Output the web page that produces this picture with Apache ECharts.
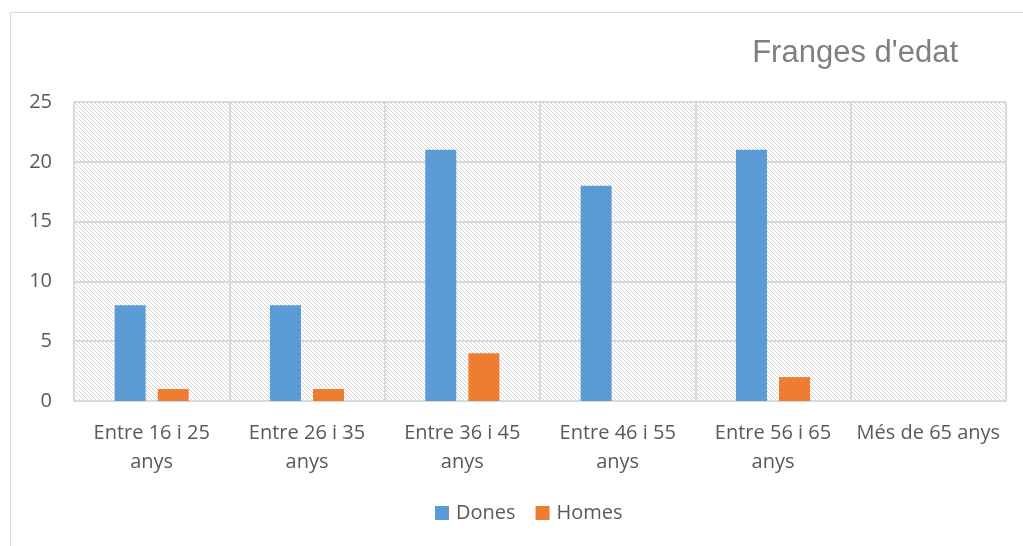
<!DOCTYPE html>
<html>
<head>
<meta charset="utf-8">
<script src="https://cdn.jsdelivr.net/npm/echarts@6/dist/echarts.min.js"></script>
<style>
  html, body { margin: 0; padding: 0; background: #fff; }
  #chart { width: 1023px; height: 546px; }
</style>
</head>
<body>
<div id="chart"></div>
<script>
const categories = ["Entre 16 i 25\nanys", "Entre 26 i 35\nanys", "Entre 36 i 45\nanys", "Entre 46 i 55\nanys", "Entre 56 i 65\nanys", "Més de 65 anys"];
const dones = [8, 8, 21, 18, 21, 0];
const homes = [1, 1, 4, 0, 2, 0];

// diagonal hatch for plot area
function hatch() {
  const c = document.createElement("canvas");
  c.width = 8; c.height = 8;
  const ctx = c.getContext("2d");
  ctx.fillStyle = "#ffffff";
  ctx.fillRect(0, 0, 8, 8);
  for (let y = 0; y < 8; y++) {
    for (let x = 0; x < 8; x++) {
      const m = ((x - y) % 4 + 4) % 4;
      if (m === 0) { ctx.fillStyle = "#d2d2d2"; ctx.fillRect(x, y, 1, 1); }
    }
  }
  return c;
}

const font = "'Open Sans', sans-serif";
const chart = echarts.init(document.getElementById("chart"));
chart.setOption({
  animation: false,
  title: {
    text: "Franges d'edat",
    right: 60,
    top: 33,
    textStyle: { fontFamily: "'Liberation Sans', Arial, sans-serif", fontSize: 31, fontWeight: "normal", color: "#7f7f7f" }
  },
  graphic: [{
    type: "rect",
    shape: { x: 10.5, y: 12.5, width: 1030, height: 560 },
    style: { fill: null, stroke: "#d9d9d9", lineWidth: 1 },
    silent: true,
    z: -10
  }],
  legend: {
    bottom: 18,
    left: 430,
    itemWidth: 14,
    itemHeight: 14,
    itemGap: 20,
    icon: "rect",
    textStyle: { fontFamily: font, fontSize: 20, color: "#595959", padding: [0, 0, 0, 2] },
    data: ["Dones", "Homes"]
  },
  grid: {
    left: 74, right: 17, top: 102, bottom: 145,
    show: true,
    borderWidth: 0,
    backgroundColor: { image: hatch(), repeat: "repeat" }
  },
  xAxis: {
    type: "category",
    data: categories,
    axisLine: { lineStyle: { color: "#d9d9d9", width: 2 } },
    axisTick: { show: false },
    splitLine: { show: true, lineStyle: { color: "#d9d9d9", width: 2 } },
    axisLabel: { fontFamily: font, fontSize: 20, color: "#595959", lineHeight: 29, margin: 18, interval: 0 }
  },
  yAxis: {
    type: "value",
    min: 0, max: 25, interval: 5,
    axisLine: { show: false },
    axisTick: { show: false },
    splitLine: { lineStyle: { color: "#d9d9d9", width: 2 } },
    axisLabel: { fontFamily: font, fontSize: 20, color: "#595959", margin: 22 }
  },
  series: [
    { name: "Dones", type: "bar", data: dones, barWidth: 31, barGap: "39%", itemStyle: { color: "#5b9bd5" } },
    { name: "Homes", type: "bar", data: homes, barWidth: 31, itemStyle: { color: "#ed7d31" } }
  ]
});
</script>
</body>
</html>
